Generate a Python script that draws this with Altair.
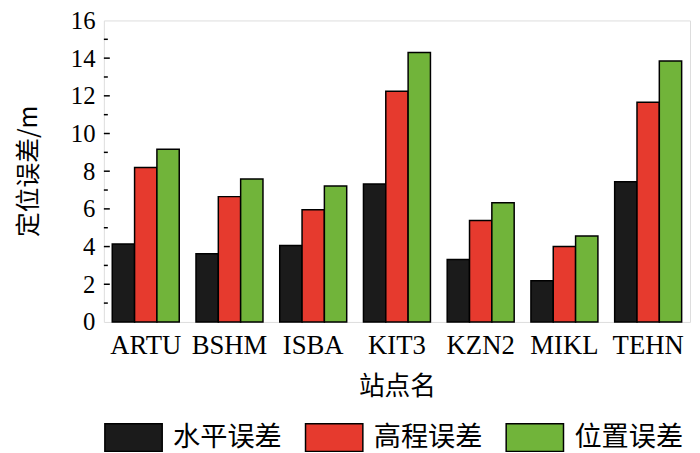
import altair as alt
import pandas as pd

stations = ["ARTU", "BSHM", "ISBA", "KIT3", "KZN2", "MIKL", "TEHN"]
series = ["水平误差", "高程误差", "位置误差"]
horizontal = [4.13, 3.62, 4.06, 7.32, 3.31, 2.19, 7.44]
vertical = [8.19, 6.65, 5.95, 12.24, 5.38, 4.00, 11.66]
position = [9.17, 7.58, 7.22, 14.30, 6.33, 4.56, 13.85]
colors = ["#1b1b1b", "#e63a2e", "#71b43a"]
major_ticks = [2, 4, 6, 8, 10, 12, 14]
minor_ticks = [1, 3, 5, 7, 9, 11, 13, 15]
y_labels = [0, 2, 4, 6, 8, 10, 12, 14, 16]

rows = []
for s, vals in zip(series, [horizontal, vertical, position]):
    for st, v in zip(stations, vals):
        rows.append({"station": st, "series": s, "value": v})
df = pd.DataFrame(rows)

serif = "Liberation Serif"
cjk = "Noto Sans CJK SC"

y_axis = alt.Axis(
    values=y_labels, ticks=False, domain=False, grid=False,
    labelFont=serif, labelFontSize=25, labelColor="black", labelPadding=9,
    title="定位误差/m", titleFont=cjk, titleFontSize=25, titleFontWeight="normal",
    titleColor="black", titleAngle=-90, titleX=-76, titleY=152,
    titleAlign="center", titleBaseline="middle",
)
y_scale = alt.Scale(domain=[0, 16], nice=False, zero=True)

bars = alt.Chart(df).mark_bar(stroke="black", strokeWidth=1.5).encode(
    x=alt.X("station:N", sort=stations,
            scale=alt.Scale(paddingInner=0.2, paddingOuter=0.1),
            axis=alt.Axis(labelAngle=0, ticks=False, domain=False,
                          labelFont=serif, labelFontSize=27, labelColor="black",
                          labelPadding=11, title="站点名", titleFont=cjk,
                          titleFontSize=26, titleFontWeight="normal",
                          titleColor="black", titlePadding=15)),
    xOffset=alt.XOffset("series:N", sort=series,
                        scale=alt.Scale(paddingInner=0, paddingOuter=0)),
    y=alt.Y("value:Q", scale=y_scale, axis=y_axis),
    color=alt.Color("series:N", sort=series,
                    scale=alt.Scale(domain=series, range=colors),
                    legend=alt.Legend(
                        title=None, orient="none", legendX=0, legendY=392,
                        direction="horizontal", columns=3, columnPadding=21,
                        symbolType="M-1,-0.48H1V0.48H-1Z", symbolSize=3364,
                        symbolStrokeColor="black", symbolStrokeWidth=1.5,
                        symbolOpacity=1,
                        labelFont=cjk, labelFontSize=27.5, labelColor="black",
                        labelOffset=10, padding=0)),
)

major_df = pd.DataFrame({"value": major_ticks})
minor_df = pd.DataFrame({"value": minor_ticks})

major = alt.Chart(major_df).mark_rule(color="black", strokeWidth=1.5).encode(
    y=alt.Y("value:Q", scale=y_scale, axis=y_axis),
    x=alt.value(0), x2=alt.value(6),
)
minor = alt.Chart(minor_df).mark_rule(color="black", strokeWidth=1.5).encode(
    y=alt.Y("value:Q", scale=y_scale, axis=y_axis),
    x=alt.value(0), x2=alt.value(4),
)

chart = alt.layer(bars, major, minor).properties(
    width=593, height=305,
    autosize=alt.AutoSizeParams(type="none"),
    padding={"left": 97, "top": 10, "right": 2, "bottom": 130},
).configure_view(
    stroke="black", strokeWidth=2
).configure(background="white")

chart.save("out.html", embed_options={"renderer": "svg", "actions": False})
